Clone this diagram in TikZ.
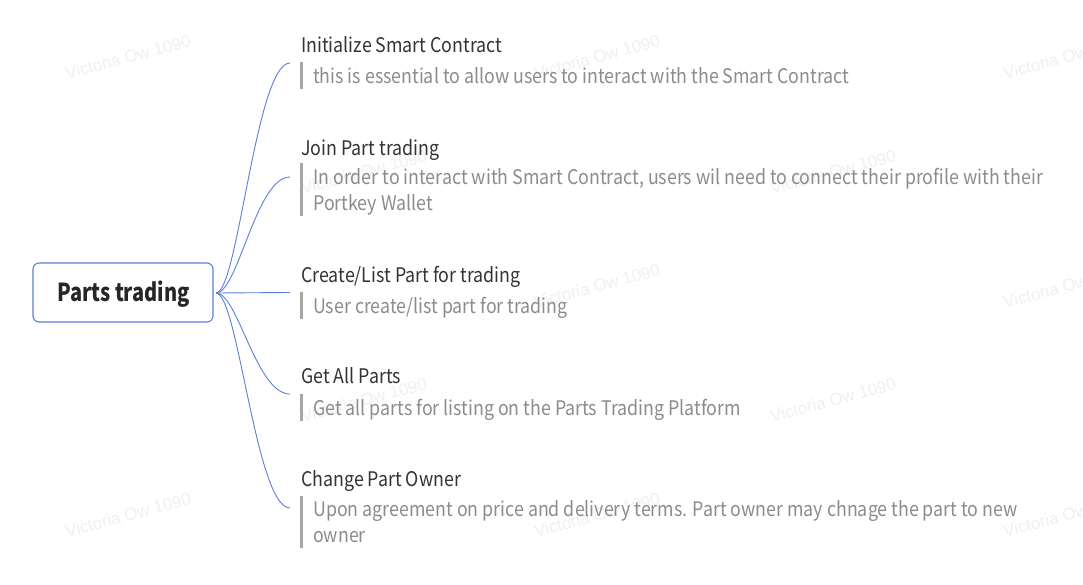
\documentclass[tikz,border=0pt]{standalone}
\usepackage{fontspec}
\setmainfont{Noto Sans CJK SC}
\newfontfamily\wmfont{Liberation Sans}
\definecolor{linkblue}{HTML}{5B80D6}
\definecolor{titlecol}{HTML}{333333}
\definecolor{desccol}{HTML}{8C8C8C}
\definecolor{barcol}{HTML}{A6A6A6}
\definecolor{wmcol}{HTML}{F0F0F0}
\newcommand{\tall}[1]{\scalebox{1}[1.13]{#1}}
\tikzset{
  rootbox/.style={draw=linkblue, line width=1.1pt, rounded corners=6pt, fill=white,
    minimum width=180pt, minimum height=59pt, inner sep=0pt},
  roottext/.style={anchor=base, inner sep=0pt, font=\fontsize{20}{24}\selectfont\bfseries, text=black!85},
  topictitle/.style={anchor=base west, inner sep=0pt, text=titlecol, font=\fontsize{17.8}{22}\selectfont},
  topicdesc/.style={anchor=base west, inner sep=0pt, text=desccol, font=\fontsize{17.8}{22}\selectfont},
  descbar/.style={draw=barcol, line width=2.6pt},
  link/.style={draw=linkblue, line width=0.9pt},
  watermark/.style={rotate=15, text=wmcol, font=\wmfont\fontsize{17}{17}\selectfont, inner sep=0pt}
}
\begin{document}
\begin{tikzpicture}[x=1pt,y=-1pt]
\fill[white] (0,0) rectangle (1083,585);
\useasboundingbox (0,0) rectangle (1083,585);
% watermarks
\foreach \wx/\wy [count=\i] in {128/57,597/57,1066/57,364/172,833/172,128/286,597/286,1066/286,364/400,833/400,128/515,597/515,1066/515}{
  \node[watermark] (wm\i) at (\wx,\wy) {Victoria Ow 1090};
}
% root
\node[rootbox] (root) at (123,292.5) {};
\node[roottext] (roottxt) at (123.5,301.7) {\scalebox{1}[1.24]{Parts trading}};
\coordinate (src) at (216,293);
% branch 1
\node[topictitle] (t1) at (301,52.7) {\tall{Initialize Smart Contract}};
\node[topicdesc] (d1) at (313,83.3) {\tall{this is essential to allow users to interact with the Smart Contract}};
\coordinate (b1s) at (301.5,62); \coordinate (b1e) at (301.5,89);
\coordinate (e1) at (290,63);
% branch 2
\node[topictitle] (t2) at (301,156) {\tall{Join Part trading}};
\node[topicdesc] (d2a) at (313,185) {\tall{In order to interact with Smart Contract, users wil need to connect their profile with their}};
\node[topicdesc] (d2b) at (313,211) {\tall{Portkey Wallet}};
\coordinate (b2s) at (301.5,163); \coordinate (b2e) at (301.5,216);
\coordinate (e2) at (290,177);
% branch 3
\node[topictitle] (t3) at (301,282) {\tall{Create/List Part for trading}};
\node[topicdesc] (d3) at (313,313.3) {\tall{User create/list part for trading}};
\coordinate (b3s) at (301.5,292); \coordinate (b3e) at (301.5,319);
\coordinate (e3) at (290,292.5);
% branch 4
\node[topictitle] (t4) at (301,383.5) {\tall{Get All Parts}};
\node[topicdesc] (d4) at (313,415) {\tall{Get all parts for listing on the Parts Trading Platform}};
\coordinate (b4s) at (301.5,394); \coordinate (b4e) at (301.5,421);
\coordinate (e4) at (290,394);
% branch 5
\node[topictitle] (t5) at (301,486) {\tall{Change Part Owner}};
\node[topicdesc] (d5a) at (313,516.3) {\tall{Upon agreement on price and delivery terms. Part owner may chnage the part to new}};
\node[topicdesc] (d5b) at (313,542) {\tall{owner}};
\coordinate (b5s) at (301.5,496); \coordinate (b5e) at (301.5,548);
\coordinate (e5) at (290,508);
% bars
\foreach \k in {1,...,5}{ \draw[descbar] (b\k s) -- (b\k e); }
% links
\draw[link] (src) .. controls (238,293) and (256,63) .. (e1);
\draw[link] (src) .. controls (238,293) and (256,177) .. (e2);
\draw[link] (src) -- (e3);
\draw[link] (src) .. controls (238,293) and (256,394) .. (e4);
\draw[link] (src) .. controls (238,293) and (256,508) .. (e5);
\end{tikzpicture}
\end{document}
